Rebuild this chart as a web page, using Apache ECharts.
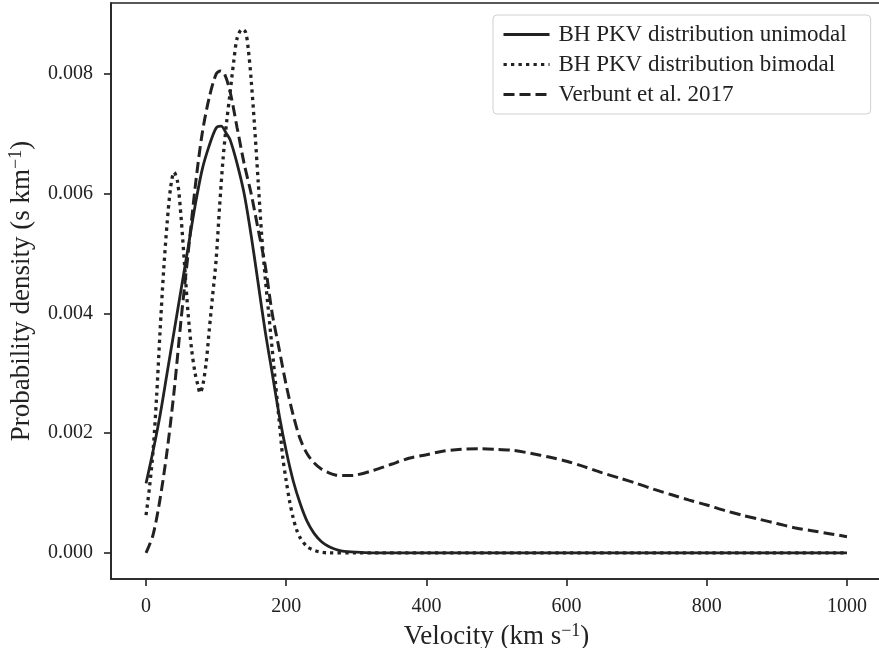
<!DOCTYPE html>
<html><head><meta charset="utf-8">
<script src="https://cdn.jsdelivr.net/npm/echarts@6/dist/echarts.min.js"></script>
<style>html,body{margin:0;padding:0;background:#fff}#c{width:879px;height:648px}</style>
</head><body><div id="c"></div>
<script>
// Velocity (km/s) and probability density (s/km)
const uniV = [0,10,20,30,40,50,60,70,80,90,100,107,115,120,130,140,150,160,170,180,190,200,210,220,230,240,250,260,270,280,300,320,350,400,500,600,700,800,900,1000];
const uniP = [0.00116,0.0017,0.0023,0.0030,0.0037,0.0044,0.0051,0.0058,0.0064,0.0068,0.0071,0.00713,0.0070,0.0069,0.0065,0.0060,0.0053,0.0045,0.0037,0.0030,0.0023,0.0017,0.0012,0.00082,0.00052,0.00032,0.00019,0.00011,0.00006,0.00003,0.00001,0,0,0,0,0,0,0,0,0];

const bimV = [0,5,10,15,20,25,30,35,40,45,50,55,60,65,70,74,77,81,86,90,95,100,105,110,115,120,125,130,137,142,146,150,155,160,165,170,175,180,185,190,195,200,205,210,215,220,230,240,250,260,300,400,500,600,700,800,900,1000];
const bimP = [0.00063,0.0011,0.0017,0.0026,0.0037,0.0047,0.0055,0.0061,0.00636,0.0062,0.0056,0.0048,0.0040,0.0034,0.0030,0.0028,0.00267,0.0028,0.0032,0.0037,0.0043,0.0049,0.0058,0.0066,0.0072,0.0077,0.0082,0.0086,0.00875,0.0087,0.0084,0.0079,0.0071,0.0062,0.0053,0.0046,0.0040,0.0034,0.0028,0.0022,0.0016,0.0012,0.00085,0.00058,0.00038,0.00025,0.0001,0.00004,0.00001,0,0,0,0,0,0,0,0,0];

const verV = [0,10,20,30,40,50,60,70,80,90,100,106,112,120,130,140,150,160,170,180,190,200,210,220,230,240,250,260,270,280,290,300,325,350,375,400,425,450,475,500,525,550,575,600,625,650,675,700,725,750,775,800,825,850,875,900,925,950,975,1000];
const verP = [0,0.0003,0.0009,0.0017,0.0027,0.0039,0.0050,0.0061,0.0070,0.0076,0.0080,0.00805,0.0080,0.0077,0.0071,0.0065,0.0060,0.0054,0.0048,0.0040,0.0034,0.0028,0.0023,0.0019,0.00165,0.0015,0.0014,0.00134,0.0013,0.00129,0.00129,0.0013,0.00138,0.00148,0.00158,0.00164,0.0017,0.00173,0.00174,0.00173,0.00171,0.00166,0.0016,0.00153,0.00144,0.00134,0.00125,0.00116,0.00106,0.00097,0.00088,0.0008,0.00071,0.00063,0.00056,0.00049,0.00042,0.00037,0.00032,0.00027];

const xTicks = [0,200,400,600,800,1000];
const yTicks = [0,0.002,0.004,0.006,0.008];
const names = ['BH PKV distribution unimodal','BH PKV distribution bimodal','Verbunt et al. 2017'];

const pair = (xs, ys) => xs.map((x, i) => [x, ys[i]]);
const FONT = 'Liberation Serif';
const INK = '#222';

const chart = echarts.init(document.getElementById('c'), null, {renderer: 'canvas'});
chart.setOption({
  animation: false,
  backgroundColor: '#fff',
  textStyle: {fontFamily: FONT, color: INK},
  grid: {left: 111, right: -3, top: 3, bottom: 69, show: true, borderColor: INK, borderWidth: 1.6,
         containLabel: false, outerBoundsMode: 'none'},
  legend: {
    orient: 'vertical', left: 493, top: 15,
    padding: [8, 24, 8, 9],
    itemWidth: 46, itemHeight: 14, itemGap: 7,
    borderColor: '#d0d0d0', borderWidth: 1, borderRadius: 4,
    backgroundColor: 'rgba(255,255,255,0.8)',
    itemStyle: {opacity: 0},
    lineStyle: {width: 3},
    textStyle: {fontFamily: FONT, fontSize: 23, color: INK, lineHeight: 22, padding: [0,0,0,4]},
    data: names
  },
  xAxis: {
    type: 'value', min: -50, max: 1050,
    name: 'Velocity (km s{sup|−1})', nameLocation: 'middle', nameGap: 40,
    nameTextStyle: {fontFamily: FONT, fontSize: 27, color: INK, lineHeight: 30,
      rich: {sup: {fontFamily: FONT, fontSize: 18, color: INK, verticalAlign: 'top', lineHeight: 30}}},
    axisLine: {show: true, onZero: false, lineStyle: {color: INK, width: 1.6}},
    axisTick: {show: true, length: 7, lineStyle: {color: INK, width: 1.6}, customValues: xTicks},
    axisLabel: {fontFamily: FONT, fontSize: 20, color: INK, margin: 18, customValues: xTicks,
      formatter: v => String(v)},
    splitLine: {show: false}
  },
  yAxis: {
    type: 'value', min: -0.0004375, max: 0.0091875,
    name: 'Probability density (s km{sup|−1})', nameLocation: 'middle', nameGap: 70, nameRotate: 90,
    nameTextStyle: {fontFamily: FONT, fontSize: 27, color: INK, lineHeight: 30,
      rich: {sup: {fontFamily: FONT, fontSize: 18, color: INK, verticalAlign: 'top', lineHeight: 30}}},
    axisLine: {show: true, onZero: false, lineStyle: {color: INK, width: 1.6}},
    axisTick: {show: true, length: 7, lineStyle: {color: INK, width: 1.6}, customValues: yTicks},
    axisLabel: {fontFamily: FONT, fontSize: 20, color: INK, margin: 18, customValues: yTicks,
      formatter: v => v.toFixed(3)},
    splitLine: {show: false}
  },
  series: [
    {name: names[0], type: 'line', data: pair(uniV, uniP), symbol: 'none', smooth: 0.3,
     lineStyle: {color: INK, width: 2.8, type: 'solid'}, itemStyle: {color: INK}},
    {name: names[1], type: 'line', data: pair(bimV, bimP), symbol: 'none', smooth: 0.3,
     lineStyle: {color: INK, width: 3.3, type: [3.3, 4.2], cap: 'butt'}, itemStyle: {color: INK}},
    {name: names[2], type: 'line', data: pair(verV, verP), symbol: 'none', smooth: 0.3,
     lineStyle: {color: INK, width: 3, type: [11, 5], cap: 'butt'}, itemStyle: {color: INK}}
  ]
});
</script></body></html>
